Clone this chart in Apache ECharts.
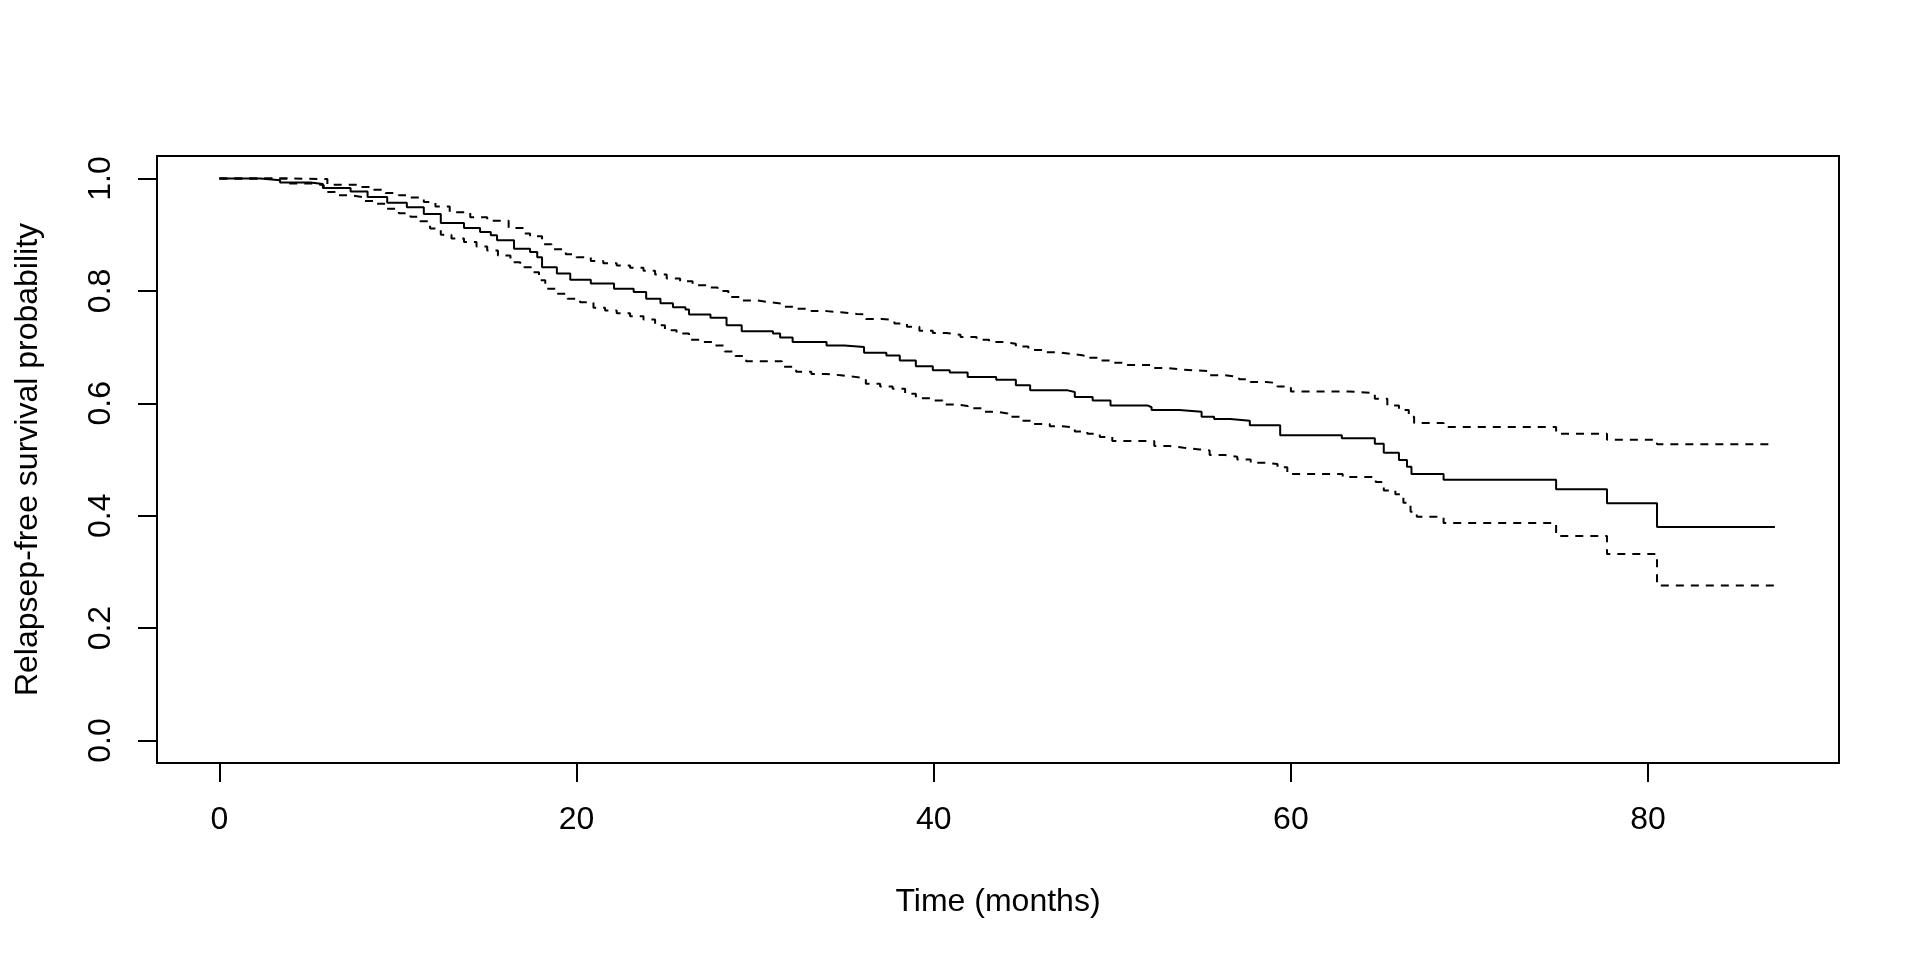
<!DOCTYPE html>
<html>
<head>
<meta charset="utf-8">
<script src="https://cdn.jsdelivr.net/npm/echarts@6/dist/echarts.min.js"></script>
<style>
html,body{margin:0;padding:0;background:#fff;}
#chart{width:1920px;height:960px;}
</style>
</head>
<body>
<div id="chart"></div>
<script>
// Kaplan-Meier estimate (months, probability)
const survTime = [0,2.3,3.4,5.1,5.8,7.35,8.3,9.4,10.5,11.45,12.4,13.7,14.6,15.2,15.55,16.5,17.4,17.8,18.07,18.9,19.65,20.8,22.1,23.2,23.9,24.7,25.4,26.1,26.3,27.5,28.4,29.25,31.0,31.4,32.1,34.0,35.0,36.1,37.35,38.1,39.0,39.95,40.9,41.9,43.5,44.6,45.4,47.5,47.9,48.9,49.9,52.0,52.2,53.75,55.0,55.7,56.6,57.7,59.4,62.85,64.7,65.2,66.05,66.5,66.75,68.55,74.85,77.7,80.5,87.1];
const survProb = [1.0,0.997,0.993,0.990,0.983,0.977,0.967,0.957,0.949,0.937,0.921,0.912,0.905,0.899,0.890,0.875,0.869,0.860,0.842,0.831,0.820,0.813,0.804,0.798,0.786,0.778,0.771,0.767,0.758,0.752,0.739,0.728,0.724,0.717,0.709,0.703,0.700,0.690,0.685,0.676,0.666,0.659,0.655,0.647,0.642,0.632,0.623,0.620,0.611,0.605,0.596,0.593,0.588,0.585,0.576,0.572,0.569,0.561,0.543,0.538,0.528,0.512,0.499,0.487,0.474,0.464,0.447,0.422,0.380,0.380];

// Upper confidence limit
const upperTime = [0,3.8,6.05,7.8,8.65,9.3,10.05,10.7,11.45,12.1,12.9,14.05,15.0,16.2,17.0,17.4,18.07,18.6,19.4,20.0,20.8,21.5,22.25,23.0,23.75,24.4,25.05,25.8,26.5,27.3,27.9,28.5,29.25,30.1,30.8,31.6,32.3,33.15,34.0,34.8,35.7,36.2,37.1,37.8,38.5,39.2,39.95,40.7,41.5,42.4,43.1,43.9,44.6,45.3,46.1,46.85,47.7,48.4,49.2,49.9,50.8,52.3,53.0,53.9,55.45,56.3,57.1,57.75,58.6,59.25,60.0,63.25,64.7,65.4,66.05,66.6,66.9,68.55,74.85,77.7,80.5,87.1];
const upperProb = [1.0,0.999,0.989,0.985,0.980,0.974,0.970,0.966,0.958,0.950,0.940,0.931,0.925,0.912,0.902,0.897,0.883,0.874,0.865,0.860,0.853,0.849,0.845,0.841,0.836,0.829,0.822,0.817,0.810,0.806,0.800,0.789,0.783,0.780,0.777,0.772,0.768,0.764,0.762,0.759,0.758,0.750,0.748,0.742,0.736,0.729,0.725,0.722,0.718,0.713,0.709,0.706,0.701,0.695,0.691,0.688,0.685,0.681,0.676,0.672,0.668,0.663,0.660,0.657,0.650,0.647,0.643,0.638,0.636,0.630,0.621,0.618,0.608,0.596,0.588,0.576,0.565,0.558,0.546,0.535,0.527,0.527];

// Lower confidence limit
const lowerTime = [0,3.8,5.3,5.85,6.6,7.35,8.0,8.65,9.3,10.05,10.7,11.25,11.8,12.4,13.0,13.7,14.4,15.0,15.6,16.3,16.85,17.5,17.9,18.25,18.9,19.5,20.2,20.95,21.6,22.25,23.0,23.75,24.4,24.95,25.6,26.3,27.0,27.65,28.3,28.9,29.5,31.5,32.3,33.15,34.0,34.8,35.6,36.2,37.0,37.7,38.4,39.0,39.8,40.5,41.3,41.9,42.7,43.5,44.15,44.9,45.5,46.5,47.2,47.9,48.6,49.3,50.0,52.35,53.2,54.0,54.9,55.45,56.3,57.0,57.75,58.6,59.25,59.8,62.9,64.75,65.2,65.85,66.3,66.7,67.05,68.55,74.85,77.7,80.5,87.1];
const lowerProb = [1.0,0.991,0.988,0.976,0.970,0.967,0.960,0.955,0.946,0.938,0.932,0.924,0.911,0.900,0.893,0.887,0.879,0.872,0.863,0.851,0.842,0.833,0.819,0.804,0.795,0.786,0.780,0.770,0.765,0.760,0.755,0.749,0.739,0.730,0.724,0.713,0.709,0.703,0.692,0.684,0.675,0.665,0.656,0.652,0.650,0.647,0.644,0.635,0.630,0.626,0.617,0.609,0.605,0.598,0.595,0.591,0.585,0.582,0.576,0.569,0.563,0.559,0.557,0.550,0.546,0.540,0.533,0.524,0.521,0.518,0.516,0.508,0.505,0.500,0.494,0.492,0.486,0.474,0.469,0.460,0.445,0.438,0.423,0.407,0.398,0.387,0.364,0.332,0.276,0.276];

const xTicks = [0,20,40,60,80];
const yTicks = [0,0.2,0.4,0.6,0.8,1.0];
const xTitle = 'Time (months)';
const yTitle = 'Relapsep-free survival probability';

function zip(a,b){ return a.map((v,i)=>[v,b[i]]); }

const FONT = 'Liberation Sans, Arial, sans-serif';
const chart = echarts.init(document.getElementById('chart'), null, {renderer:'canvas'});
chart.setOption({
  animation:false,
  backgroundColor:'#ffffff',
  grid:{left:157,right:81,top:156,bottom:197,show:true,borderColor:'#000',borderWidth:2,backgroundColor:'transparent',containLabel:false},
  xAxis:{
    type:'value', min:-3.49, max:90.69,
    axisLine:{show:false,onZero:false},
    splitLine:{show:false},
    axisTick:{show:true,customValues:xTicks,length:19,lineStyle:{color:'#000',width:2}},
    axisLabel:{customValues:xTicks,margin:41,fontSize:32,color:'#000',fontFamily:FONT},
    name:xTitle,nameLocation:'middle',nameGap:123,
    nameTextStyle:{fontSize:32,color:'#000',fontFamily:FONT}
  },
  yAxis:{
    type:'value', min:-0.04, max:1.04,
    axisLine:{show:false,onZero:false},
    splitLine:{show:false},
    axisTick:{show:true,customValues:yTicks,length:19,lineStyle:{color:'#000',width:2}},
    axisLabel:{customValues:yTicks,rotate:90,margin:40,fontSize:32,color:'#000',fontFamily:FONT,
      formatter:function(v){return Number(v).toFixed(1);}},
    name:yTitle,nameLocation:'middle',nameGap:113,nameRotate:90,
    nameTextStyle:{fontSize:32,color:'#000',fontFamily:FONT}
  },
  series:[
    {type:'line',step:'end',data:zip(survTime,survProb),symbol:'none',silent:true,
      lineStyle:{color:'#000',width:2}},
    {type:'line',step:'end',data:zip(upperTime,upperProb),symbol:'none',silent:true,
      lineStyle:{color:'#000',width:2,type:[8,7]}},
    {type:'line',step:'end',data:zip(lowerTime,lowerProb),symbol:'none',silent:true,
      lineStyle:{color:'#000',width:2,type:[8,7]}}
  ]
});
</script>
</body>
</html>
